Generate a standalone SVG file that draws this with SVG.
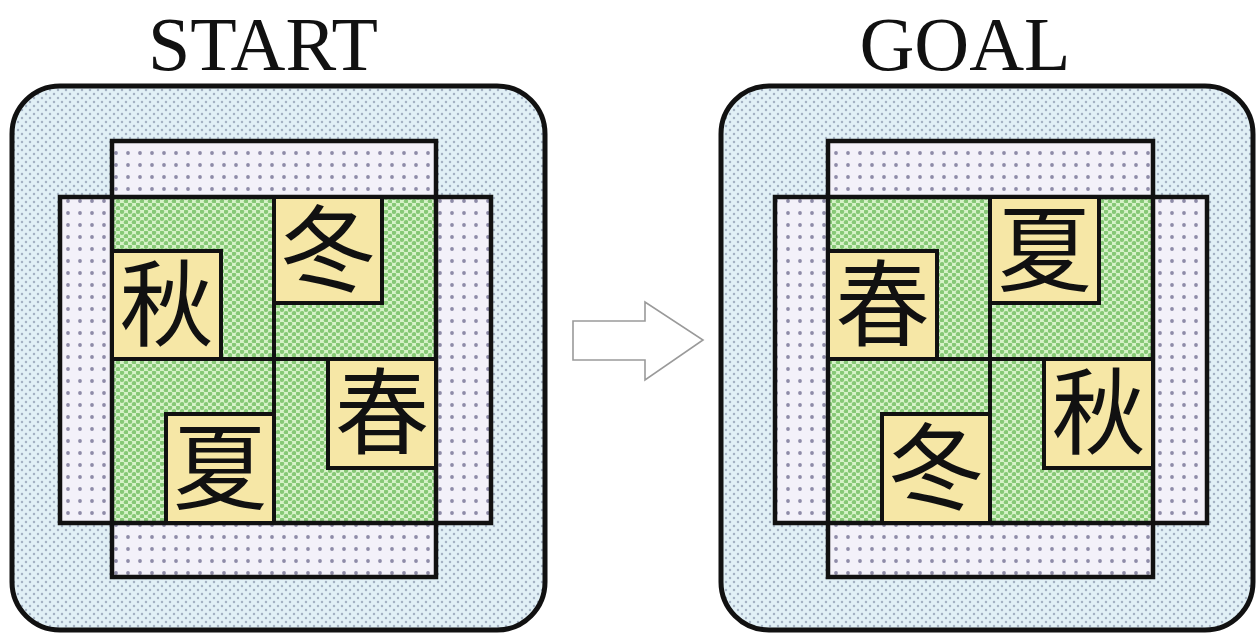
<svg xmlns="http://www.w3.org/2000/svg" width="1257" height="635" viewBox="0 0 1257 635">
<style>
.title{font-family:"Liberation Serif","Times New Roman",serif;font-size:76px;fill:#111;}
.outer{fill:url(#blueDots);stroke:#111;stroke-width:5;}
.band{fill:url(#lavDots);stroke:none;}
.bandline{fill:none;stroke:#111;stroke-width:4.5;}
.green{fill:url(#greenDots);stroke:none;}
.div{stroke:#111;stroke-width:4;fill:none;}
.tile{fill:#f6e7a6;stroke:#111;stroke-width:4;}
.kanji{font-family:"Noto Sans CJK JP","Noto Sans CJK SC",sans-serif;font-size:94px;fill:#111;text-anchor:middle;}
.arrow{fill:#fff;stroke:#9a9a9a;stroke-width:1.6;stroke-linejoin:miter;}
</style>
<defs>
<pattern id="blueDots" patternUnits="userSpaceOnUse" width="8" height="8">
<rect width="8" height="8" fill="#e1f0f6"/>
<circle cx="2" cy="2" r="1.25" fill="#a4b2c3"/>
<circle cx="6" cy="6" r="1.25" fill="#a4b2c3"/>
</pattern>
<pattern id="lavDots" patternUnits="userSpaceOnUse" width="12" height="12" x="2" y="3">
<rect width="12" height="12" fill="#f3f1f9"/>
<circle cx="6" cy="6" r="1.9" fill="#8e8ba8"/>
</pattern>
<pattern id="greenDots" patternUnits="userSpaceOnUse" width="8" height="7">
<rect width="8" height="7" fill="#d6f2c8"/>
<circle cx="2" cy="1.75" r="2.2" fill="#86c876"/>
<circle cx="6" cy="5.25" r="2.2" fill="#86c876"/>
</pattern>
</defs>
<rect width="1257" height="635" fill="#ffffff"/>

<g id="title-start"><text class="title" x="263" y="70" text-anchor="middle">START</text></g>
<g id="title-goal"><text class="title" x="965" y="70" text-anchor="middle">GOAL</text></g>

<g id="start-board">
<rect class="outer" x="12" y="86" width="533" height="544" rx="48" ry="48"/>
<rect class="band" x="112" y="141" width="324" height="436"/>
<rect class="band" x="60" y="197" width="431" height="326"/>
<rect class="green" x="112" y="197" width="324" height="326"/>
<rect class="bandline" x="112" y="141" width="324" height="436"/>
<rect class="bandline" x="60" y="197" width="431" height="326"/>
<line class="div" x1="274" y1="197" x2="274" y2="523"/>
<line class="div" x1="112" y1="359" x2="436" y2="359"/>
</g>
<g id="start-tile-aki"><rect class="tile" x="112" y="251" width="109" height="108"/><text class="kanji" x="166.5" y="339">秋</text></g>
<g id="start-tile-fuyu"><rect class="tile" x="274" y="197" width="108" height="106"/><text class="kanji" x="328" y="284">冬</text></g>
<g id="start-tile-haru"><rect class="tile" x="328" y="359" width="108" height="109"/><text class="kanji" x="382" y="447">春</text></g>
<g id="start-tile-natsu"><rect class="tile" x="166" y="414" width="108" height="109"/><text class="kanji" x="220" y="502">夏</text></g>

<g id="goal-board">
<rect class="outer" x="721" y="86" width="532" height="544" rx="48" ry="48"/>
<rect class="band" x="828" y="141" width="325" height="436"/>
<rect class="band" x="775" y="197" width="432" height="326"/>
<rect class="green" x="828" y="197" width="325" height="326"/>
<rect class="bandline" x="828" y="141" width="325" height="436"/>
<rect class="bandline" x="775" y="197" width="432" height="326"/>
<line class="div" x1="990" y1="197" x2="990" y2="523"/>
<line class="div" x1="828" y1="359" x2="1153" y2="359"/>
</g>
<g id="goal-tile-haru"><rect class="tile" x="828" y="251" width="109" height="108"/><text class="kanji" x="882.5" y="339">春</text></g>
<g id="goal-tile-natsu"><rect class="tile" x="990" y="197" width="109" height="106"/><text class="kanji" x="1044.5" y="284">夏</text></g>
<g id="goal-tile-aki"><rect class="tile" x="1044" y="359" width="109" height="109"/><text class="kanji" x="1098.5" y="447">秋</text></g>
<g id="goal-tile-fuyu"><rect class="tile" x="882" y="414" width="108" height="109"/><text class="kanji" x="936" y="502">冬</text></g>

<g id="connectors">
<polygon class="arrow" points="573,321 645,321 645,302 703,340 645,380 645,360 573,360"/>
</g>
</svg>
